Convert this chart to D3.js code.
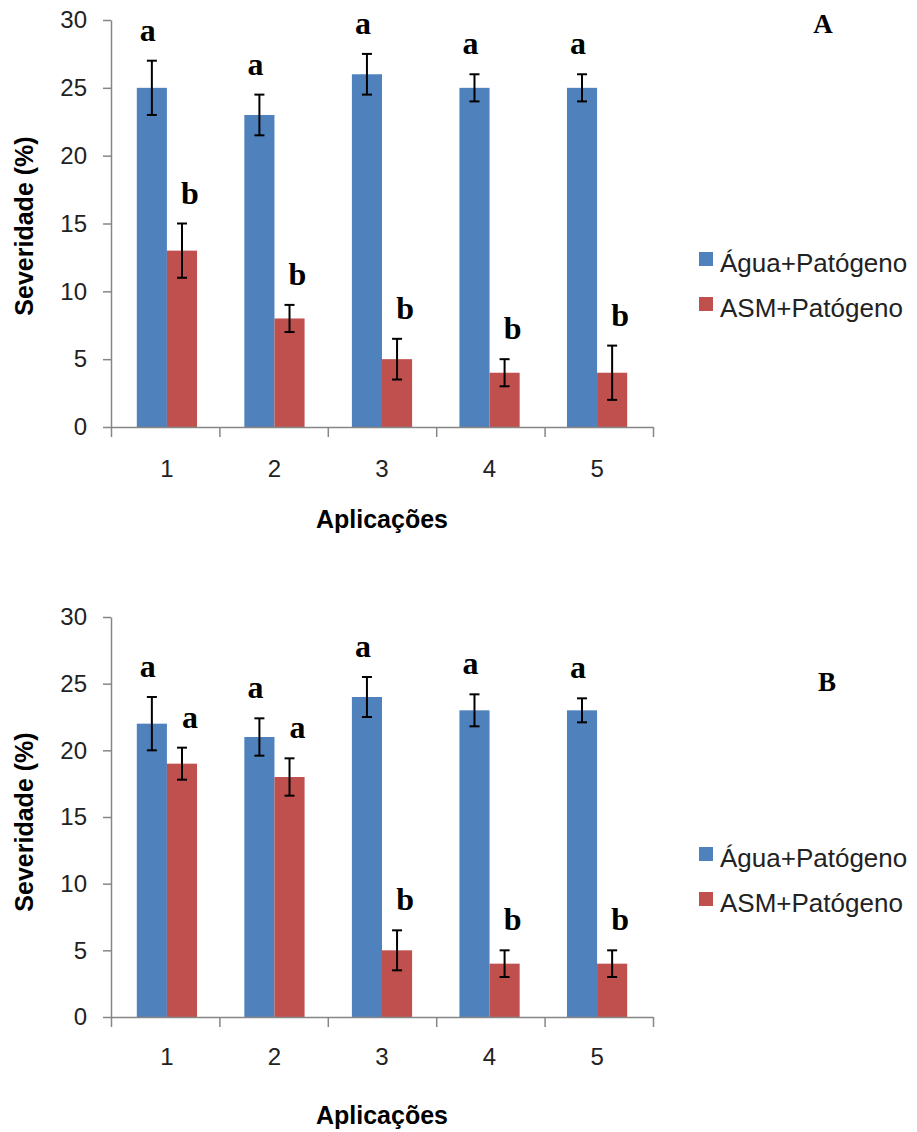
<!DOCTYPE html>
<html>
<head>
<meta charset="utf-8">
<script src="https://cdn.jsdelivr.net/npm/d3@7"></script>
<style>
  body { margin: 0; background: #fff; }
  svg text { font-family: "Liberation Sans", Arial, sans-serif; }
  svg text.letter { font-family: "Liberation Serif", "Times New Roman", serif; font-weight: bold; font-size: 32px; }
  svg text.tag { font-family: "Liberation Serif", "Times New Roman", serif; font-weight: bold; font-size: 27px; }
</style>
</head>
<body>
<script>
// categorias e series
var categories = ['1', '2', '3', '4', '5'];
var seriesNames = ['Água+Patógeno', 'ASM+Patógeno'];
var seriesColors = ['#4F81BD', '#C0504D'];
var yTicks = [0, 5, 10, 15, 20, 25, 30];

// painel A
var aguaA = [25, 23, 26, 25, 25];
var aguaErrA = [2, 1.5, 1.5, 1, 1];
var asmA = [13, 8, 5, 4, 4];
var asmErrA = [2, 1, 1.5, 1, 2];
var aguaLetrasA = ['a', 'a', 'a', 'a', 'a'];
var asmLetrasA = ['b', 'b', 'b', 'b', 'b'];

// painel B
var aguaB = [22, 21, 24, 23, 23];
var aguaErrB = [2, 1.4, 1.5, 1.2, 0.9];
var asmB = [19, 18, 5, 4, 4];
var asmErrB = [1.2, 1.4, 1.5, 1, 1];
var aguaLetrasB = ['a', 'a', 'a', 'a', 'a'];
var asmLetrasB = ['a', 'a', 'b', 'b', 'b'];

var W = 917, H = 1132;
var svg = d3.select('body').append('svg')
  .attr('width', W)
  .attr('height', H);

function drawPanel(p) {
  var g = svg.append('g');
  var left = 111, right = 653;

  var y = d3.scaleLinear().domain([0, 30]).range([p.y0, p.y30]);
  var x0 = d3.scaleBand().domain(categories).range([left, right])
    .paddingInner(0.44).paddingOuter(0.24);
  var x1 = d3.scaleBand().domain([0, 1]).range([0, x0.bandwidth()]);

  var rows = categories.map(function(c, i) {
    return [
      { cat: c, s: 0, v: p.agua[i], e: p.aguaErr[i], l: p.aguaLet[i] },
      { cat: c, s: 1, v: p.asm[i], e: p.asmErr[i], l: p.asmLet[i] }
    ];
  });
  var flat = [].concat.apply([], rows);

  // barras
  g.selectAll('rect.bar')
    .data(flat)
    .enter()
    .append('rect')
    .attr('class', 'bar')
    .attr('x', d => x0(d.cat) + x1(d.s))
    .attr('width', x1.bandwidth())
    .attr('y', d => y(d.v))
    .attr('height', d => y(0) - y(d.v))
    .attr('fill', d => seriesColors[d.s]);

  // eixo y
  var yAxis = g.append('g')
    .attr('transform', 'translate(' + left + ',0)')
    .call(d3.axisLeft(y).tickValues(yTicks).tickSize(8).tickSizeOuter(0).tickPadding(16));
  yAxis.selectAll('path, line').attr('stroke', '#868686').attr('stroke-width', 1.5);
  yAxis.selectAll('text').style('font-size', '24px').attr('fill', '#222');

  // eixo x: marcas nas divisoes
  var xb = d3.scaleLinear().domain([0, 5]).range([left, right]);
  var xTicks = g.append('g')
    .attr('transform', 'translate(0,' + p.y0 + ')')
    .call(d3.axisBottom(xb).tickValues([0, 1, 2, 3, 4, 5]).tickSize(10).tickSizeOuter(0).tickFormat(''));
  xTicks.selectAll('path, line').attr('stroke', '#868686').attr('stroke-width', 1.5);

  // eixo x: rotulos
  var xLab = g.append('g')
    .attr('transform', 'translate(0,' + p.y0 + ')')
    .call(d3.axisBottom(x0).tickSize(0).tickPadding(p.xPad));
  xLab.select('.domain').remove();
  xLab.selectAll('text').style('font-size', '24px').attr('fill', '#222');

  // barras de erro
  var eb = g.selectAll('g.err')
    .data(flat)
    .enter()
    .append('g')
    .attr('class', 'err')
    .attr('stroke', '#000')
    .attr('stroke-width', 2);
  var cx = d => x0(d.cat) + x1(d.s) + x1.bandwidth() / 2;
  eb.append('line')
    .attr('x1', cx).attr('x2', cx)
    .attr('y1', d => y(d.v + d.e)).attr('y2', d => y(d.v - d.e));
  eb.append('line')
    .attr('x1', d => cx(d) - 5).attr('x2', d => cx(d) + 5)
    .attr('y1', d => y(d.v + d.e)).attr('y2', d => y(d.v + d.e));
  eb.append('line')
    .attr('x1', d => cx(d) - 5).attr('x2', d => cx(d) + 5)
    .attr('y1', d => y(d.v - d.e)).attr('y2', d => y(d.v - d.e));

  // letras de significancia
  g.selectAll('text.letter')
    .data(flat)
    .enter()
    .append('text')
    .attr('class', 'letter')
    .attr('x', d => cx(d) + (d.s ? 8 : -4))
    .attr('y', d => y(d.v + d.e) - 20)
    .style('text-anchor', 'middle')
    .text(d => d.l);

  // titulos dos eixos
  g.append('text')
    .attr('x', (left + right) / 2)
    .attr('y', p.titleY)
    .style('text-anchor', 'middle')
    .style('font-size', '25px')
    .style('font-weight', 'bold')
    .text('Aplicações');

  g.append('text')
    .attr('transform', 'translate(33,' + p.yTitleC + ') rotate(-90)')
    .style('text-anchor', 'middle')
    .style('font-size', '25px')
    .style('font-weight', 'bold')
    .text('Severidade (%)');

  // letra do painel
  g.append('text')
    .attr('class', 'tag')
    .attr('x', p.tagX)
    .attr('y', p.tagY)
    .style('text-anchor', 'middle')
    .text(p.tag);

  // legenda
  var leg = g.selectAll('g.leg')
    .data(seriesNames)
    .enter()
    .append('g')
    .attr('class', 'leg')
    .attr('transform', (d, i) => 'translate(699,' + (p.legY + i * 45) + ')');
  leg.append('rect')
    .attr('x', 0).attr('y', -20)
    .attr('width', 14).attr('height', 14)
    .attr('fill', (d, i) => seriesColors[i]);
  leg.append('text')
    .attr('x', 21)
    .attr('y', 0)
    .style('font-size', '26px')
    .attr('fill', '#222')
    .text(d => d);
}

drawPanel({
  y0: 427, y30: 20, xPad: 33, titleY: 528, yTitleC: 226,
  tag: 'A', tagX: 823, tagY: 33, legY: 272,
  agua: aguaA, aguaErr: aguaErrA, asm: asmA, asmErr: asmErrA,
  aguaLet: aguaLetrasA, asmLet: asmLetrasA
});

drawPanel({
  y0: 1017, y30: 617, xPad: 31, titleY: 1124, yTitleC: 822,
  tag: 'B', tagX: 827, tagY: 691, legY: 867,
  agua: aguaB, aguaErr: aguaErrB, asm: asmB, asmErr: asmErrB,
  aguaLet: aguaLetrasB, asmLet: asmLetrasB
});
</script>
</body>
</html>
